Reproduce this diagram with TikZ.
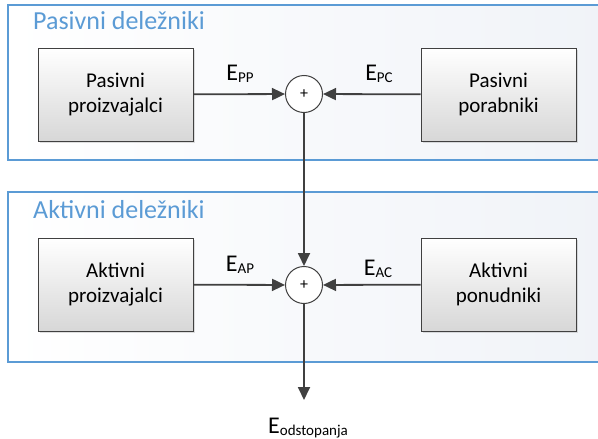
\documentclass[tikz,border=0pt]{standalone}
\usepackage{fontspec}
\setmainfont{Carlito}
\usetikzlibrary{arrows.meta,shadows}
\definecolor{panelblue}{RGB}{91,155,213}
\definecolor{linegray}{RGB}{64,64,64}
\definecolor{panelfill}{RGB}{240,243,248}
\definecolor{boxgray}{RGB}{215,215,215}
\newcommand{\esub}[1]{E\raisebox{-2pt}{\fontsize{15}{15}\selectfont #1}}
\begin{document}
\begin{tikzpicture}[x=1pt,y=-1pt,
  panel/.style={draw=panelblue,line width=1.3pt,left color=white,right color=panelfill},
  blockbox/.style={draw=linegray,line width=1pt,minimum width=155pt,minimum height=93pt,
    top color=white,bottom color=boxgray,align=center,font=\fontsize{21}{25}\selectfont,
    drop shadow={shadow xshift=2pt,shadow yshift=-2pt,opacity=0.25}},
  sumnode/.style={circle,draw=linegray,line width=1pt,fill=white,minimum size=37pt,inner sep=0pt,
    font=\fontsize{16}{16}\selectfont},
  flow/.style={draw=linegray,line width=1.8pt,-{Triangle[length=13pt,width=12pt]}},
  elabel/.style={font=\fontsize{24}{24}\selectfont,inner sep=0pt},
  title/.style={font=\fontsize{26}{26}\selectfont,text=panelblue,anchor=west,inner sep=0pt}]
\useasboundingbox (0,0) rectangle (598,439);
\clip (0,0) rectangle (598,439);
\fill[white] (0,0) rectangle (598,439);
% panels
\path[panel] (8,5) rectangle (610,160);
\path[panel] (8,192) rectangle (610,362);
\node[title] (t1) at (33,21) {Pasivni deležniki};
\node[title] (t2) at (33,210) {Aktivni deležniki};
% blocks
\node[blockbox] (pp) at (115.5,94.5) {Pasivni\\proizvajalci};
\node[blockbox] (pc) at (498.5,94.5) {Pasivni\\porabniki};
\node[blockbox] (ap) at (115.5,284.5) {Aktivni\\proizvajalci};
\node[blockbox] (ac) at (498.5,284.5) {Aktivni\\ponudniki};
% sums
\node[sumnode] (s1) at (304,94) {+};
\node[sumnode] (s2) at (304,285) {+};
\coordinate (out) at (304,400);
% flows
\draw[flow] (pp) -- (s1);
\draw[flow] (pc) -- (s1);
\draw[flow] (ap) -- (s2);
\draw[flow] (ac) -- (s2);
\draw[flow] (s1) -- (s2);
\draw[flow] (s2) -- (out);
% labels
\node[elabel] (lpp) at (240,74) {\esub{PP}};
\node[elabel] (lpc) at (379,74) {\esub{PC}};
\node[elabel] (lap) at (240,265) {\esub{AP}};
\node[elabel] (lac) at (378,269) {\esub{AC}};
\node[elabel] (lout) at (308,428) {\esub{odstopanja}};
\end{tikzpicture}
\end{document}
